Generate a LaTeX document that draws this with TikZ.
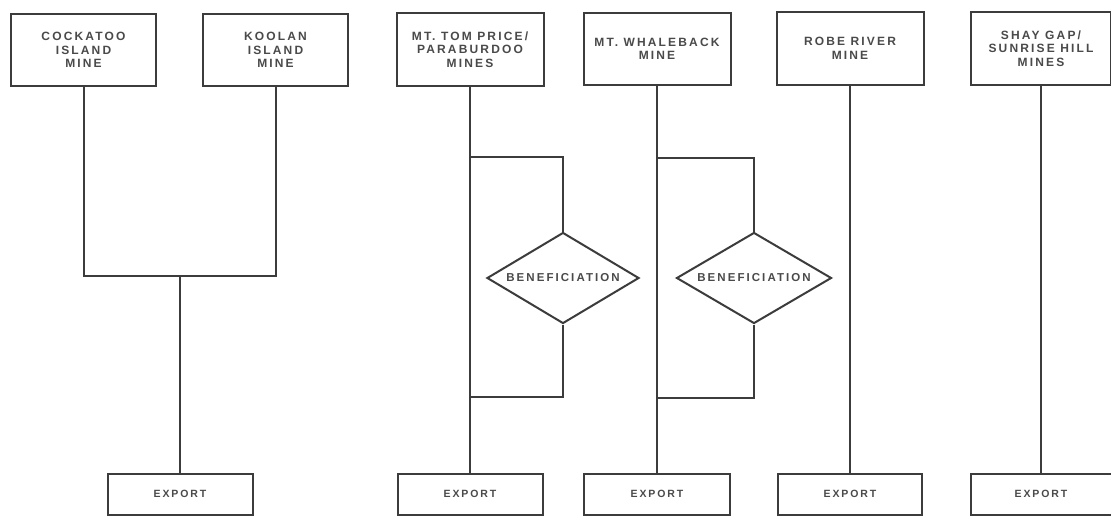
\documentclass[tikz,border=0pt]{standalone}
\usepackage{fontspec}
\setmainfont{Liberation Sans}[LetterSpace=18]
\usetikzlibrary{shapes.geometric}
\definecolor{ink}{HTML}{3C3C3C}
\definecolor{txt}{HTML}{4A4A4A}
\tikzset{
  x=1pt,y=-1pt,
  mine/.style={draw=ink,line width=2pt,fill=white,minimum width=145pt,minimum height=72pt,inner sep=0pt,align=center,text=txt,font=\bfseries\fontsize{12}{13.5}\selectfont},
  exportbox/.style={draw=ink,line width=2pt,fill=white,minimum width=145pt,minimum height=41pt,inner sep=0pt,text=txt,font=\bfseries\fontsize{10.5}{12}\selectfont},
  benef/.style={draw=ink,line width=2pt,fill=white,diamond,aspect=1.66,minimum width=152pt,minimum height=91pt,inner sep=0pt,text=txt,font=\bfseries\fontsize{11.5}{13}\selectfont},
  conn/.style={draw=ink,line width=2pt}
}
\begin{document}
\begin{tikzpicture}
\useasboundingbox (0,0) rectangle (1111,517);
\coordinate (jl) at (180,276);
\coordinate (t1) at (470,157);
\coordinate (t2) at (470,397);
\coordinate (w1) at (657,158);
\coordinate (w2) at (657,398);
% top boxes
\node[mine] (cock) at (83.5,50) {COCKATOO\\ISLAND\\MINE};
\node[mine] (koolan) at (275.5,50) {KOOLAN\\ISLAND\\MINE};
\node[mine,minimum width=147pt,minimum height=73pt] (tom) at (470,49.5) {MT. TOM PRICE/\\PARABURDOO\\MINES};
\node[mine,minimum width=147pt] (whale) at (657,49) {MT. WHALEBACK\\MINE};
\node[mine,minimum width=147pt,minimum height=73pt] (robe) at (850,48.5) {ROBE RIVER\\MINE};
\node[mine,minimum width=140pt,minimum height=73pt] (shay) at (1041,48.5) {SHAY GAP/\\SUNRISE HILL\\MINES};
% diamonds
\node[benef] (ben1) at (563,278) {BENEFICIATION};
\node[benef,minimum width=155pt] (ben2) at (754,278) {BENEFICIATION};
% export boxes
\node[exportbox] (ex1) at (180,494) {EXPORT};
\node[exportbox] (ex2) at (470,494) {EXPORT};
\node[exportbox,minimum width=146pt] (ex3) at (657,494) {EXPORT};
\node[exportbox,minimum width=144pt] (ex4) at (850,494) {EXPORT};
\node[exportbox,minimum width=141pt] (ex5) at (1041,494) {EXPORT};
% connectors
\draw[conn] (cock.south) |- (jl) -| (koolan.south);
\draw[conn] (jl) -- (ex1.north);
\draw[conn] (tom.south) -- (ex2.north);
\draw[conn] (t1) -| (ben1.north);
\draw[conn] (ben1.south) |- (t2);
\draw[conn] (whale.south) -- (ex3.north);
\draw[conn] (w1) -| (ben2.north);
\draw[conn] (ben2.south) |- (w2);
\draw[conn] (robe.south) -- (ex4.north);
\draw[conn] (shay.south) -- (ex5.north);
\end{tikzpicture}
\end{document}
